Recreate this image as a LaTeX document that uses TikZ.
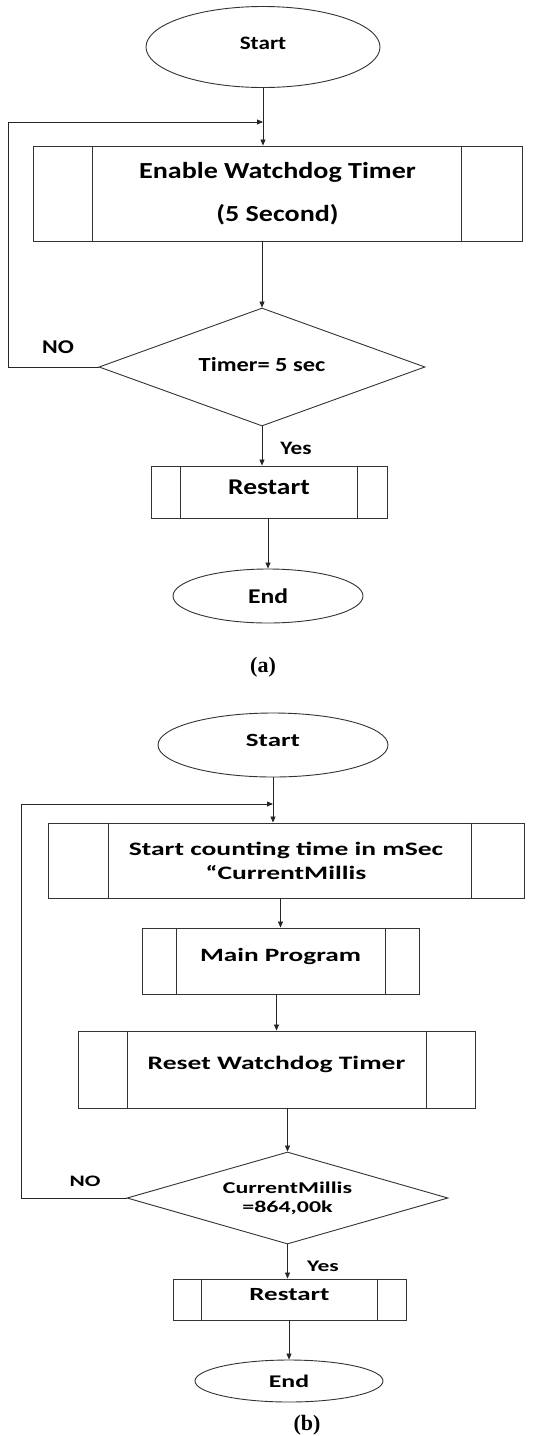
\documentclass[tikz,border=0pt]{standalone}
\usepackage{fontspec}
\usetikzlibrary{shapes.geometric,arrows.meta,calc}
\newfontfamily\fa{Carlito}[FakeStretch=1.22]
\newfontfamily\fb{Carlito}[FakeStretch=1.45]
\newfontfamily\tnr{Liberation Serif}
\newcommand\procsides[3]{%
  \draw[ln] ([xshift=#2pt]#1.north west) -- ([xshift=#2pt]#1.south west);
  \draw[ln] ([xshift=-#3pt]#1.north east) -- ([xshift=-#3pt]#1.south east);}
\begin{document}
\begin{tikzpicture}[x=1pt,y=-1pt,
  shp/.style={draw=black!80, line width=0.9pt, inner sep=0pt, align=center, text=black},
  term/.style={shp, ellipse},
  proc/.style={shp, rectangle},
  dec/.style={shp, diamond},
  ln/.style={draw=black!80, line width=0.8pt},
  arr/.style={draw=black!85, line width=0.8pt, -{Triangle[length=6pt,width=5pt]}},
  lbl/.style={inner sep=0pt, text=black},
  fA/.style={font=\fa\bfseries\fontsize{#1}{#1}\selectfont},
  fB/.style={font=\fb\bfseries\fontsize{#1}{#1}\selectfont}]
\useasboundingbox[fill=white] (0,0) rectangle (543,1436);

% ---------------- (a) ----------------
\node[term, minimum width=234pt, minimum height=81pt, fA=19, text depth=8pt] (startA) at (263,47) {Start};
\node[proc, minimum width=489pt, minimum height=95pt, font=\fa\bfseries\fontsize{23}{43}\selectfont] (boxA) at (277.5,193.5) {Enable Watchdog Timer\\(5 Second)};
\procsides{boxA}{60}{61}
\node[dec, aspect=2.76, minimum width=326pt, minimum height=118pt, fA=20, text depth=6pt] (diaA) at (262,367) {Timer= 5 sec};
\node[proc, minimum width=236pt, minimum height=52pt, fA=22.5, text depth=10pt] (rsA) at (269,492) {Restart};
\procsides{rsA}{30}{30}
\node[term, minimum width=190pt, minimum height=54pt, fA=21] (endA) at (268,596) {End};
\node[lbl, fA=19.5] (noA) at (58,347) {NO};
\node[lbl, fA=19] (yesA) at (296,448) {Yes};
\node[lbl, font=\tnr\bfseries\fontsize{22}{22}\selectfont] (capA) at (263,667) {(a)};

\coordinate (na1) at (8,367);
\coordinate (na2) at (8,122);
\draw[arr] (startA.south) -- (startA.south |- boxA.north);
\draw[arr] (diaA.west) -- (na1) -- (na2) -- (startA.south |- na2);
\draw[arr] (diaA.north |- boxA.south) -- (diaA.north);
\draw[arr] (diaA.south) -- (diaA.south |- rsA.north);
\draw[arr] (rsA.south -| endA.north) -- (endA.north);

% ---------------- (b) ----------------
\node[term, minimum width=230pt, minimum height=64pt, fB=18.6, text depth=9pt] (startB) at (273,745) {Start};
\node[proc, minimum width=476pt, minimum height=75pt, font=\fb\bfseries\fontsize{19}{24}\selectfont] (cntB) at (286,860.5) {Start counting time in mSec\\“CurrentMillis};
\procsides{cntB}{61}{53}
\node[proc, minimum width=277pt, minimum height=66pt, fB=18.8, text depth=13pt] (mainB) at (280.5,961) {Main Program};
\procsides{mainB}{35}{34}
\node[proc, minimum width=397pt, minimum height=77pt, fB=19, text depth=13pt] (resetB) at (276.5,1069.5) {Reset Watchdog Timer};
\procsides{resetB}{50}{49}
\node[dec, aspect=3.5, minimum width=321pt, minimum height=92pt, font=\fb\bfseries\fontsize{16.5}{19}\selectfont] (diaB) at (287.5,1198) {CurrentMillis\\=864,00k};
\node[proc, minimum width=233pt, minimum height=41pt, fB=18.6, text depth=10pt] (rsB) at (289.5,1299.5) {Restart};
\procsides{rsB}{29}{29}
\node[term, minimum width=188pt, minimum height=42pt, fB=17.8] (endB) at (289,1381) {End};
\node[lbl, fB=16] (noB) at (85,1181) {NO};
\node[lbl, fB=16.2] (yesB) at (323,1266) {Yes};
\node[lbl, font=\tnr\bfseries\fontsize{22}{22}\selectfont] (capB) at (307,1425) {(b)};

\coordinate (nb1) at (21,1198);
\coordinate (nb2) at (21,804);
\draw[arr] (startB.south) -- (startB.south |- cntB.north);
\draw[arr] (diaB.west) -- (nb1) -- (nb2) -- (startB.south |- nb2);
\draw[arr] (mainB.north |- cntB.south) -- (mainB.north);
\draw[arr] (resetB.north |- mainB.south) -- (resetB.north);
\draw[arr] (diaB.north |- resetB.south) -- (diaB.north);
\draw[arr] (diaB.south) -- (diaB.south |- rsB.north);
\draw[arr] (rsB.south -| endB.north) -- (endB.north);
\end{tikzpicture}
\end{document}
